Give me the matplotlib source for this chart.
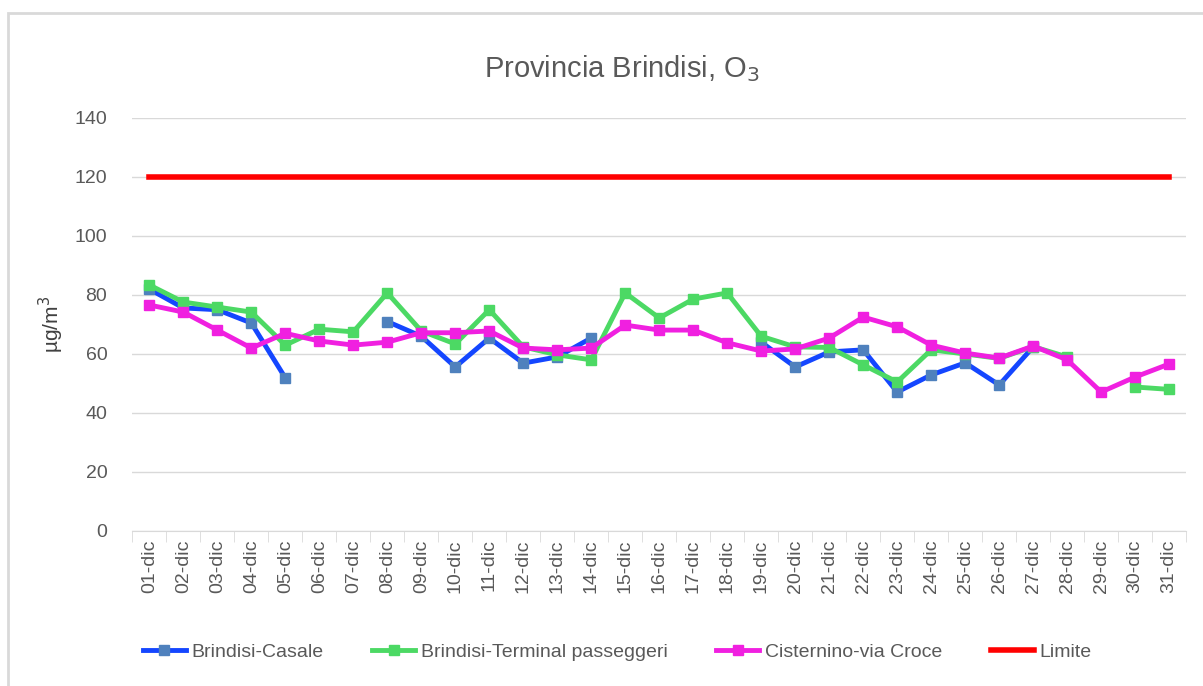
import numpy as np
import matplotlib.pyplot as plt
from matplotlib.patches import Rectangle

plt.rcParams['font.family'] = ['Liberation Sans Narrow', 'Liberation Sans', 'DejaVu Sans']

giorni = [f"{d:02d}-dic" for d in range(1, 32)]
nan = np.nan

casale = [82, 75.6, 75, 70.5, 51.9, nan, nan, 71, 66, 55.6,
          65.4, 56.9, 59, 65.4, nan, nan, nan, nan, 64, 55.6,
          60.7, 61.4, 47.1, 52.9, 57, 49.5, 62.4, nan, nan, nan, nan]
terminal = [83.4, 77.6, 75.9, 74.2, 63, 68.4, 67.5, 80.7, 67.8, 63.4,
            75, 62.4, 59.7, 58, 80.7, 72.2, 78.6, 80.7, 66, 62.4,
            62.2, 56.3, 50.5, 61.4, 60, 58.5, 62.5, 59, nan, 48.8, 48]
cisternino = [76.6, 74.2, 68.1, 62, 67, 64.4, 63, 64, 67.2, 67.2,
              67.8, 62, 61.4, 62, 69.8, 68.1, 68.1, 63.8, 61, 61.7,
              65.4, 72.5, 69.2, 63, 60.3, 58.6, 62.7, 58, 47.1, 52.2, 56.6]
limite = [120] * 31

fig = plt.figure(figsize=(12.03, 6.86), dpi=100)
ax = fig.add_axes([0.110, 0.226, 0.876, 0.602])

# chart frame
fig.patches.append(Rectangle((8 / 1203, -0.05), 1.1, 1 - 13 / 686 + 0.05,
                             transform=fig.transFigure, fill=False,
                             edgecolor='#D9D9D9', linewidth=2))

x = np.arange(len(giorni))
ax.plot(x, casale, color='#1446FF', lw=3.5, marker='s', ms=7.5,
        mfc='#4F81BD', mec='#4F81BD', label='Brindisi-Casale', zorder=3)
ax.plot(x, terminal, color='#4CD964', lw=3.5, marker='s', ms=7.5,
        mfc='#4CD964', mec='#4CD964', label='Brindisi-Terminal passeggeri', zorder=4)
ax.plot(x, cisternino, color='#F020E0', lw=3.5, marker='s', ms=7.5,
        mfc='#F020E0', mec='#F020E0', label='Cisternino-via Croce', zorder=5)
ax.plot(x, limite, color='#FF0000', lw=4, label='Limite', zorder=6)

ax.set_xlim(-0.5, 30.5)
ax.set_ylim(0, 140)
ax.set_yticks(range(0, 141, 20))
ax.grid(axis='y', color='#D9D9D9', lw=1)
ax.set_axisbelow(True)
for s in ['top', 'right', 'left']:
    ax.spines[s].set_visible(False)
ax.spines['bottom'].set_color('#D9D9D9')

ax.set_xticks(x)
ax.set_xticklabels(giorni, rotation=90, fontsize=14, color='#595959')
ax.set_xticks(np.arange(-0.5, 31, 1), minor=True)
ax.tick_params(axis='x', which='major', length=0, pad=6)
ax.tick_params(axis='x', which='minor', length=8, color='#D9D9D9')
ax.tick_params(axis='y', length=0, labelsize=14, labelcolor='#595959', pad=18)

ax.set_ylabel('µg/m$^3$', fontsize=15, color='#404040', labelpad=6)
fig.text(0.517, 0.9, 'Provincia Brindisi, O$_3$', fontsize=21, color='#595959',
         ha='center', va='center')

fig.legend(loc='center', bbox_to_anchor=(0.513, 0.05), ncol=4, frameon=False,
           fontsize=14, labelcolor='#595959', handlelength=2.2,
           columnspacing=2.5, handletextpad=0.3)

fig.savefig('out.png', dpi=100)
